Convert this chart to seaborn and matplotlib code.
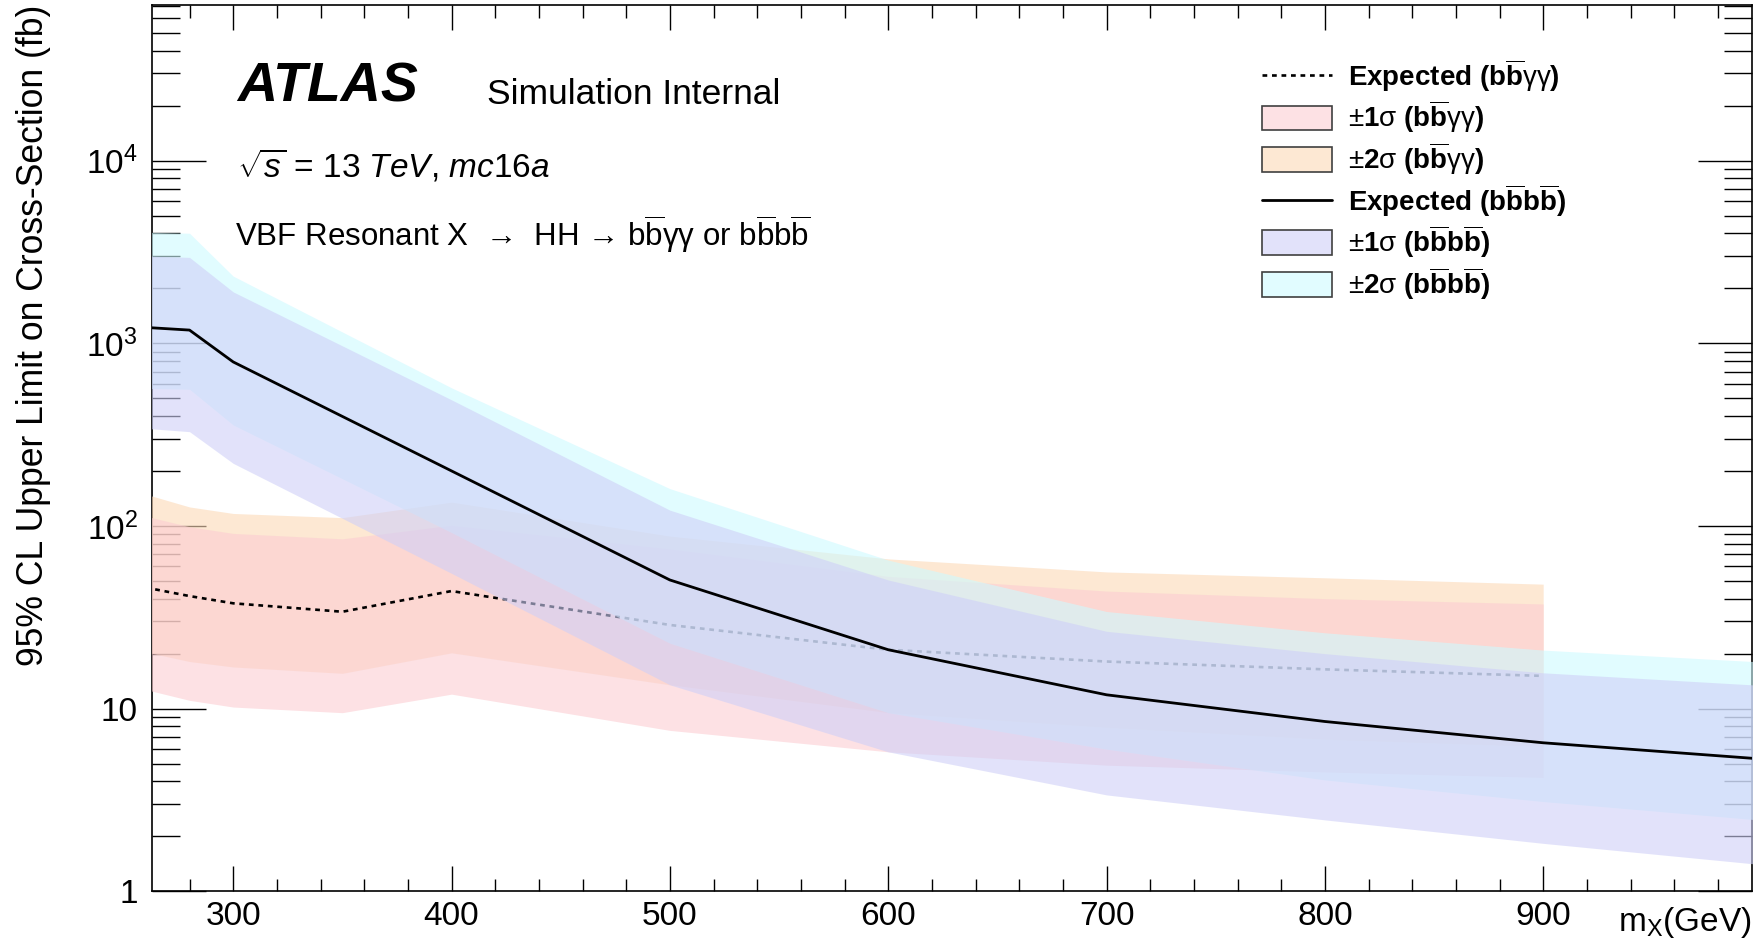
import numpy as np
import pandas as pd
import matplotlib
matplotlib.use("Agg")
import matplotlib.pyplot as plt
from matplotlib.lines import Line2D
from matplotlib.patches import Patch
from matplotlib.colors import to_rgba
from matplotlib.ticker import MultipleLocator, LogLocator, NullFormatter, FuncFormatter
import seaborn as sns

# bb-gamma-gamma channel: expected 95% CL limits and bands (fb)
mass_bbyy = [260, 280, 300, 350, 400, 500, 600, 700, 800, 900]
exp_bbyy = [46.0, 41.3, 37.7, 33.9, 44.0, 28.7, 21.0, 18.1, 16.4, 15.1]
up2_bbyy = [149, 127, 117, 111, 135, 88, 66, 56, 52, 48]
up1_bbyy = [113, 99, 91, 85, 101, 75, 53, 44, 40, 37.4]
dn1_bbyy = [20.4, 18.1, 16.9, 15.6, 20.2, 13.5, 9.5, 7.9, 6.8, 6.2]
dn2_bbyy = [12.7, 11.1, 10.2, 9.5, 12.0, 7.6, 5.8, 4.9, 4.5, 4.2]

# bbbb channel: expected 95% CL limits and bands (fb)
mass_4b = [260, 280, 300, 400, 500, 600, 700, 800, 900, 1000]
exp_4b = [1220, 1180, 790, 200, 50.6, 21.0, 11.9, 8.5, 6.5, 5.3]
up2_4b = [4050, 4000, 2330, 570, 160, 65, 34, 26, 20.9, 18.0]
up1_4b = [3000, 2950, 1910, 490, 122, 50.6, 26.5, 20.0, 15.7, 13.4]
dn1_4b = [566, 560, 357, 92, 22.8, 9.5, 6.0, 4.07, 3.1, 2.45]
dn2_4b = [342, 328, 220, 55, 13.5, 5.8, 3.37, 2.46, 1.83, 1.40]

sns.set_theme(style="ticks")
plt.rcParams["font.family"] = ["Liberation Sans", "DejaVu Sans"]
plt.rcParams.update({
    "mathtext.fontset": "custom",
    "mathtext.rm": "Liberation Sans",
    "mathtext.it": "Liberation Sans:italic",
    "mathtext.bf": "Liberation Sans:bold",
    "mathtext.sf": "Liberation Sans",
    "axes.edgecolor": "black",
    "xtick.color": "black",
    "ytick.color": "black",
    "text.color": "black",
})

PEACH = "#fcd9b7"
PINK = "#fccdd2"
CYAN = "#cefaff"
LAVENDER = "#cfd0f8"
ALPHA = 0.6
DOTTED = (0, (1.8, 1.8))

df_bbyy = pd.DataFrame({"mass": mass_bbyy, "limit": exp_bbyy})
df_4b = pd.DataFrame({"mass": mass_4b, "limit": exp_4b})

W, H = 1754, 941
fig = plt.figure(figsize=(W / 100, H / 100), dpi=100)
left, right, bottom, top = 152.4, 1751.7, 891.3, 5.0
ax = fig.add_axes([left / W, 1 - bottom / H, (right - left) / W, (bottom - top) / H])

# bbyy bands and expected line
ax.fill_between(mass_bbyy, dn1_bbyy, up2_bbyy, color=PEACH, alpha=ALPHA, lw=0, zorder=1.0)
ax.fill_between(mass_bbyy, dn2_bbyy, up1_bbyy, color=PINK, alpha=ALPHA, lw=0, zorder=1.1)
sns.lineplot(data=df_bbyy, x="mass", y="limit", ax=ax, color="black", lw=1.9,
             linestyle=DOTTED, zorder=2)

# bbbb bands and expected line
ax.fill_between(mass_4b, dn1_4b, up2_4b, color=CYAN, alpha=ALPHA, lw=0, zorder=3.0)
ax.fill_between(mass_4b, dn2_4b, up1_4b, color=LAVENDER, alpha=ALPHA, lw=0, zorder=3.1)
sns.lineplot(data=df_4b, x="mass", y="limit", ax=ax, color="black", lw=2.0, zorder=4)

ax.set_yscale("log")
ax.set_xlim(263, 995.5)
ax.set_ylim(1, 7.1e4)
ax.set_xlabel("")
ax.set_ylabel("")

ax.xaxis.set_major_locator(MultipleLocator(100))
ax.xaxis.set_minor_locator(MultipleLocator(20))
ax.yaxis.set_major_locator(LogLocator(base=10, numticks=10))
ax.yaxis.set_minor_locator(LogLocator(base=10, subs=np.arange(2, 10), numticks=30))
ax.yaxis.set_minor_formatter(NullFormatter())


def decade_label(v, _pos):
    n = int(round(np.log10(v)))
    if n == 0:
        return "1"
    if n == 1:
        return "10"
    return r"$10^{%d}$" % n


ax.yaxis.set_major_formatter(FuncFormatter(decade_label))
ax.tick_params(which="both", direction="in", top=True, right=True, width=1.0)
ax.tick_params(axis="y", which="major", length=39, pad=10.5, labelsize=24)
ax.tick_params(axis="y", which="minor", length=20)
ax.tick_params(axis="x", which="major", length=18, pad=7, labelsize=24)
ax.tick_params(axis="x", which="minor", length=9)
ax.set_axisbelow(True)
for sp in ax.spines.values():
    sp.set_linewidth(1.2)
    sp.set_zorder(0.6)

# axis titles
fig.text(33.5 / W, 1 - 5 / H, "95% CL Upper Limit on Cross-Section (fb)",
         rotation=90, ha="center", va="top", fontsize=25.6)
fig.text(1752 / W, 1 - 931 / H, r"$\mathrm{m}_{\mathrm{X}}$(GeV)",
         ha="right", va="baseline", fontsize=24)

# labels in the upper left
fig.text(237 / W, 1 - 87 / H, "ATLAS", ha="left", va="center",
         fontsize=40, fontweight="bold", fontstyle="italic")
fig.text(487 / W, 1 - 95 / H, "Simulation Internal", ha="left", va="center", fontsize=25.5)
fig.text(237 / W, 1 - 165 / H, r"$\sqrt{s}$ = 13 $TeV$, $mc16a$",
         ha="left", va="center", fontsize=24)
fig.text(235 / W, 1 - 234 / H,
         "VBF Resonant X  \u2192  HH \u2192 b$\\overline{\\mathrm{b}}$\u03b3\u03b3"
         " or b$\\overline{\\mathrm{b}}$b$\\overline{\\mathrm{b}}$",
         ha="left", va="center", fontsize=22.5)

# legend
edge = "#404040"
handles = [
    Line2D([], [], color="black", lw=1.9, linestyle=DOTTED),
    Patch(facecolor=to_rgba(PINK, ALPHA), edgecolor=edge, linewidth=1.2),
    Patch(facecolor=to_rgba(PEACH, ALPHA), edgecolor=edge, linewidth=1.2),
    Line2D([], [], color="black", lw=2.0),
    Patch(facecolor=to_rgba(LAVENDER, ALPHA), edgecolor=edge, linewidth=1.2),
    Patch(facecolor=to_rgba(CYAN, ALPHA), edgecolor=edge, linewidth=1.2),
]
labels = [
    r"$\mathbf{Expected\ (b\overline{b}}\mathrm{\gamma\gamma}\mathbf{)}$",
    r"$\pm\mathbf{1}\mathrm{\sigma}\ \mathbf{(b\overline{b}}\mathrm{\gamma\gamma}\mathbf{)}$",
    r"$\pm\mathbf{2}\mathrm{\sigma}\ \mathbf{(b\overline{b}}\mathrm{\gamma\gamma}\mathbf{)}$",
    r"$\mathbf{Expected\ (b\overline{b}b\overline{b})}$",
    r"$\pm\mathbf{1}\mathrm{\sigma}\ \mathbf{(b\overline{b}b\overline{b})}$",
    r"$\pm\mathbf{2}\mathrm{\sigma}\ \mathbf{(b\overline{b}b\overline{b})}$",
]
ax.legend(handles, labels, loc="upper left", bbox_to_anchor=(1262 / W, 1 - 57 / H),
          bbox_transform=fig.transFigure, frameon=False, borderpad=0, borderaxespad=0,
          fontsize=20, handlelength=2.52, handleheight=1.0, handletextpad=0.58,
          labelspacing=0.17)

fig.savefig("out.png", dpi=100)
